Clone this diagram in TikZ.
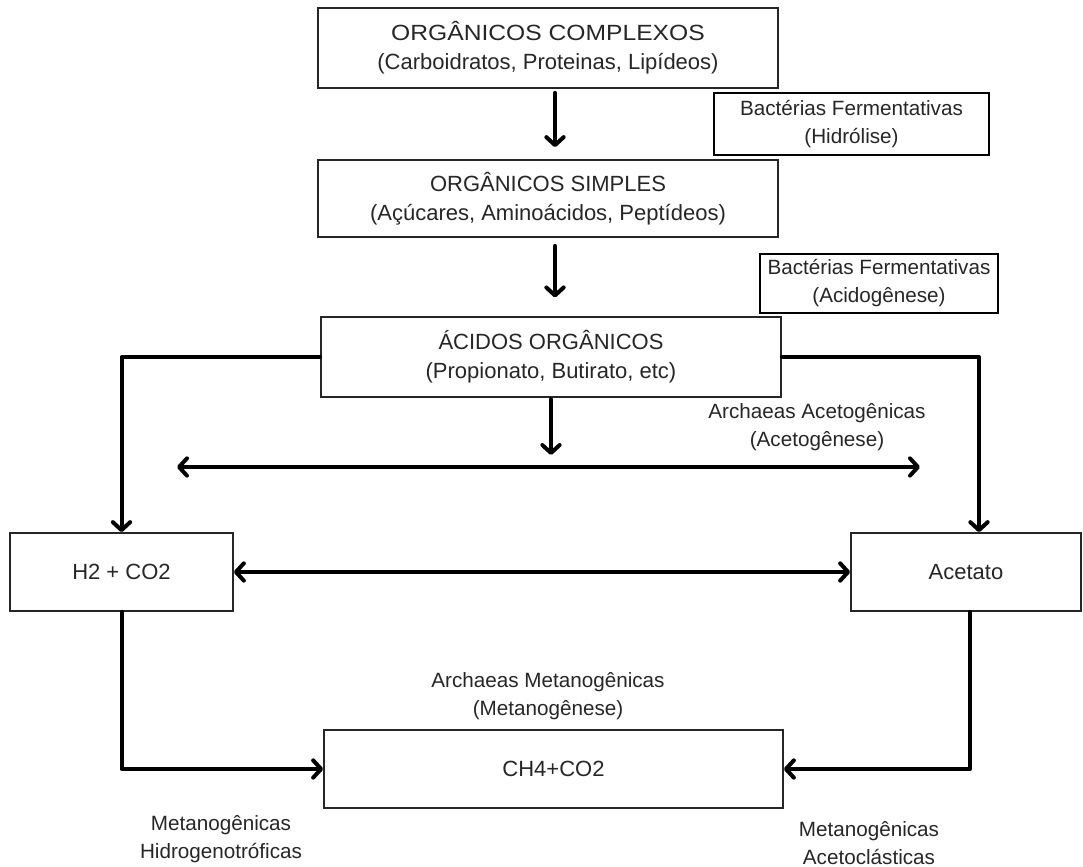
\documentclass[tikz,border=0pt]{standalone}
\usepackage{fontspec}
\setmainfont{Liberation Sans}
\usetikzlibrary{arrows.meta}
\begin{document}
\begin{tikzpicture}[x=0.75pt,y=-0.75pt,
  big/.style={font=\fontsize{16.5pt}{21.75pt}\selectfont},
  small/.style={font=\fontsize{15.5pt}{21pt}\selectfont},
  box/.style={draw=black!85,line width=1.3pt,align=center,inner sep=0pt,text=black!85},
  tagbox/.style={draw=black,line width=2pt,align=center,inner sep=0pt,text=black!85,small},
  lbl/.style={align=center,inner sep=0pt,text=black!85,small},
  flow/.style={line width=3pt,line cap=round,line join=round,-{Straight Barb[length=6pt,width=13pt,round]}},
  dflow/.style={line width=3pt,line cap=round,{Straight Barb[length=6pt,width=13pt,round]}-{Straight Barb[length=6pt,width=13pt,round]}}]
\useasboundingbox (0,0) rectangle (1083,867);
% boxes
\node[box,big,minimum width=345pt,minimum height=60pt] (b1) at (548,48) {\scalebox{1.12}[1]{ORGÂNICOS COMPLEXOS}\\(Carboidratos, Proteinas, Lipídeos)};
\node[box,big,minimum width=345pt,minimum height=57.75pt] (b2) at (548,198.5) {ORGÂNICOS SIMPLES\\(Açúcares, Aminoácidos, Peptídeos)};
\node[box,big,minimum width=345pt,minimum height=60pt] (b3) at (551,357) {ÁCIDOS ORGÂNICOS\\(Propionato, Butirato, etc)};
\node[tagbox,minimum width=206.25pt,minimum height=46.5pt] (hid) at (851.5,124) {Bactérias Fermentativas\\(Hidrólise)};
\node[tagbox,minimum width=178.5pt,minimum height=44.25pt] (aci) at (879,283.5) {Bactérias Fermentativas\\(Acidogênese)};
\node[box,big,minimum width=167.25pt,minimum height=58.5pt] (h2) at (121.5,572) {H2 + CO2};
\node[box,big,minimum width=172.5pt,minimum height=58.5pt] (ac) at (966,572) {Acetato};
\node[box,big,minimum width=344.25pt,minimum height=58.5pt] (ch4) at (553.5,769) {CH4+CO2};
% labels
\node[lbl] (lacet) at (817,427) {Archaeas Acetogênicas\\(Acetogênese)};
\node[lbl] (lmet) at (548,696) {Archaeas Metanogênicas\\(Metanogênese)};
\node[lbl] (lhid) at (221,839) {Metanogênicas\\Hidrogenotróficas};
\node[lbl] (lacl) at (869,843) {Metanogênicas\\Acetoclásticas};
% coordinates
\coordinate (aL) at (177,467);
\coordinate (aR) at (920,467);
% connectors
\draw[flow,shorten <=3pt,shorten >=9pt] ([xshift=5.25pt]b1.south) -- ([xshift=5.25pt]b2.north);
\draw[flow,shorten <=6pt,shorten >=14pt] ([xshift=5.25pt]b2.south) -- ([xshift=5.25pt]b2.south |- b3.north);
\draw[flow,shorten <=1pt,shorten >=9pt] (b3.south) -- (b3.south |- aL);
\draw[dflow] (aL) -- (aR);
\draw[flow] (b3.west) -| (h2.north);
\draw[flow] (b3.east) -| ([xshift=9.75pt]ac.north);
\draw[dflow] (h2.east) -- (ac.west);
\draw[flow] (h2.south) |- (ch4.west);
\draw[flow] ([xshift=3pt]ac.south) |- (ch4.east);
\end{tikzpicture}
\end{document}
